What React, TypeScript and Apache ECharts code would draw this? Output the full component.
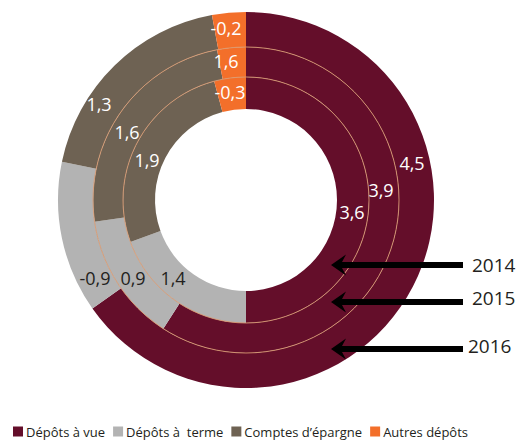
import React, { useEffect, useRef } from "react";
import * as echarts from "echarts";

// ---- Data ----
const categories = ["Dépôts à vue", "Dépôts à  terme", "Comptes d’épargne", "Autres dépôts"];
const years = ["2014", "2015", "2016"];
// Printed values (labels as shown on the chart)
const labels2014 = ["3,6", "1,4", "1,9", "-0,3"];
const labels2015 = ["3,9", "0,9", "1,6", "1,6"];
const labels2016 = ["4,5", "-0,9", "1,3", "-0,2"];
// Drawn magnitudes of the slices
const values2014 = [3.6, 1.4, 1.9, 0.3];
const values2015 = [3.9, 0.9, 1.6, 0.2];
const values2016 = [4.5, 0.9, 1.3, 0.2];

// ---- Layout / style ----
const COLORS = ["#640e2a", "#b3b3b3", "#6e6253", "#f36f2a"];
const LABEL_COLORS = ["#ffffff", "#231f20", "#ffffff", "#ffffff"];
const CX = 246;
const CY = 200;
const RADII: [number, number][] = [
  [91, 123],
  [123, 153],
  [153, 188],
];
// label centres (px) per ring, per category
const LABEL_XY: [number, number][][] = [
  [[352, 212], [173, 278], [147, 160], [230, 92]],
  [[381, 190], [133, 278], [127, 132], [226, 61]],
  [[412, 163], [95, 278], [99, 104], [226, 28]],
];
const ARROW_Y = [265, 302, 349];
const YEAR_LABEL_Y = [265, 298, 346];

export default function App() {
  const ref = useRef<HTMLDivElement>(null);
  useEffect(() => {
    if (!ref.current) return;
    const chart = echarts.init(ref.current, undefined, { renderer: "svg" });
    const ringValues = [values2014, values2015, values2016];
    const ringLabels = [labels2014, labels2015, labels2016];
    const font = "'Open Sans', 'Noto Sans', sans-serif";

    const series = ringValues.map((vals, ri) => ({
      type: "pie",
      name: years[ri],
      center: [CX, CY],
      radius: RADII[ri],
      startAngle: 90,
      clockwise: true,
      avoidLabelOverlap: false,
      silent: true,
      itemStyle: { borderWidth: 0 },
      label: {
        show: true,
        position: "inside",
        fontFamily: font,
        fontSize: 18,
        formatter: (p: any) => ringLabels[ri][p.dataIndex],
      },
      labelLine: { show: false },
      labelLayout: (p: any) => ({
        x: LABEL_XY[ri][p.dataIndex][0],
        y: LABEL_XY[ri][p.dataIndex][1],
        align: "center",
        verticalAlign: "middle",
      }),
      data: vals.map((v, i) => ({
        name: categories[i],
        value: v,
        label: { color: LABEL_COLORS[i] },
      })),
    }));

    const graphics: any[] = [];
    // ring separators
    [RADII[0][1], RADII[1][1]].forEach((r) => {
      graphics.push({
        type: "circle",
        shape: { cx: CX, cy: CY, r },
        style: { fill: "none", stroke: "#d89a72", lineWidth: 0.9 },
        z: 100,
        silent: true,
      });
    });
    // arrows and year labels
    years.forEach((y, i) => {
      const ay = ARROW_Y[i];
      graphics.push({
        type: "polygon",
        shape: {
          points: [
            [331, ay],
            [346, ay - 10.5],
            [342, ay - 3],
            [463, ay - 3],
            [463, ay + 3],
            [342, ay + 3],
            [346, ay + 10.5],
          ],
        },
        style: { fill: "#000000" },
        z: 100,
      });
      graphics.push({
        type: "text",
        x: i === 2 ? 468 : 472,
        y: YEAR_LABEL_Y[i],
        style: {
          text: y,
          fill: "#231f20",
          fontSize: 19,
          fontFamily: font,
          verticalAlign: "middle",
          align: "left",
        },
        z: 100,
      });
    });

    chart.setOption({
      animation: false,
      color: COLORS,
      legend: {
        data: categories,
        left: 13,
        top: 425,
        padding: 0,
        icon: "rect",
        itemWidth: 10,
        itemHeight: 10,
        itemGap: 8,
        textStyle: { fontFamily: font, fontSize: 13, color: "#231f20", padding: [0, 0, 0, -2] },
        selectedMode: false,
      },
      series,
      graphic: graphics,
    });
    return () => chart.dispose();
  }, []);
  return (
    <div
      ref={ref}
      style={{ position: "fixed", left: 0, top: 0, width: 522, height: 441, background: "#fff" }}
    />
  );
}
